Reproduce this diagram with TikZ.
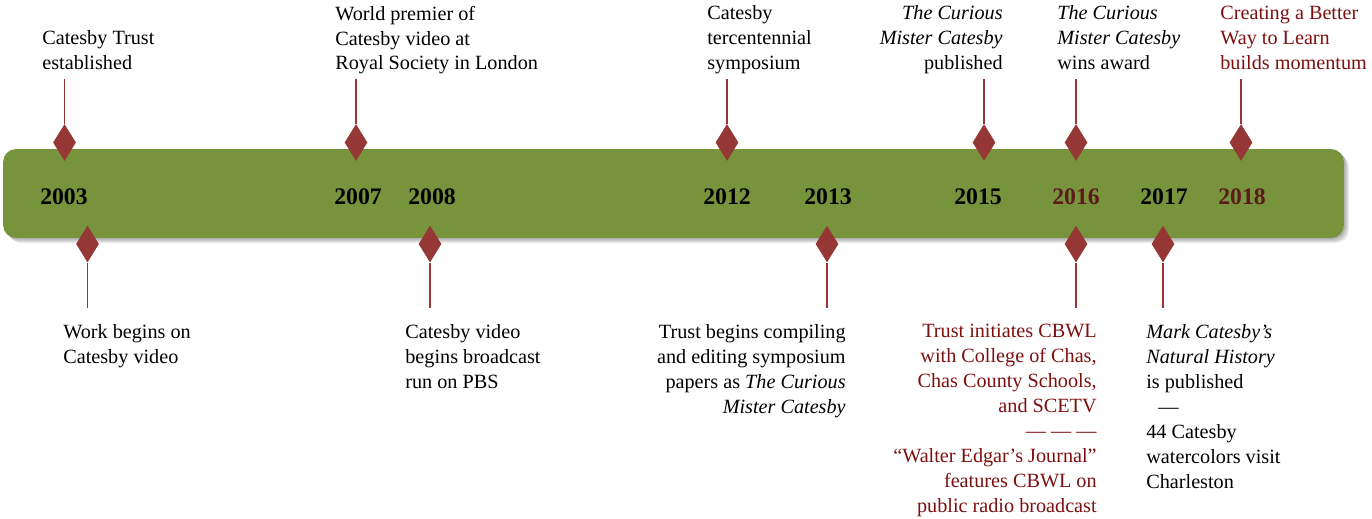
\documentclass[tikz,border=0pt]{standalone}
\usepackage{fontspec}
\setmainfont{Liberation Serif}
\usetikzlibrary{shapes.geometric}
\definecolor{barolive}{RGB}{119,147,60}
\definecolor{gem}{RGB}{149,55,53}
\definecolor{noteRed}{RGB}{125,15,15}
\definecolor{yearRed}{RGB}{92,26,26}
\begin{document}
\begin{tikzpicture}[x=0.02cm,y=-0.02cm,
  note/.style={inner sep=0pt,align=left,font=\fontsize{11.5}{14.2}\selectfont,execute at begin node=\strut},
  year/.style={inner sep=0pt,font=\fontsize{13.5}{15}\selectfont\bfseries},
  gem/.style={diamond,fill=gem,inner sep=0pt,minimum width=0.46cm,minimum height=0.74cm},
  stem/.style={draw=gem,line width=1.1pt},
  bar/.style={fill=barolive,rounded corners=0.26cm,minimum width=26.82cm,minimum height=1.78cm,inner sep=0pt}]
\useasboundingbox (0,0) rectangle (1372,518);
% soft shadow under the bar
\foreach \s in {1,...,5}
  \fill[black,opacity=0.07,rounded corners=0.26cm] (3+\s,149+\s) rectangle (1344+\s,238+\s);
\node[bar] (bar) at (673.5,193.5) {};
% years
\node[year] (y2003) at (64,197) {2003};
\node[year] (y2007) at (358,197) {2007};
\node[year] (y2008) at (432,197) {2008};
\node[year] (y2012) at (727,197) {2012};
\node[year] (y2013) at (828,197) {2013};
\node[year] (y2015) at (978,197) {2015};
\node[year,yearRed] (y2016) at (1076,197) {2016};
\node[year] (y2017) at (1164,197) {2017};
\node[year,yearRed] (y2018) at (1242,197) {2018};
% markers above and below the bar
\foreach \n/\x in {2003/64.5,2007/356,2012/727,2015/984,2016/1076,2018/1241}{
  \node[gem] (up\n) at (\x,142.5) {};
  \coordinate (upend\n) at (\x,79);
  \draw[stem] (upend\n) -- (up\n);
}
\foreach \n/\x in {2003/87.5,2008/430,2013/827,2016/1076,2017/1163}{
  \node[gem] (dn\n) at (\x,244) {};
  \coordinate (dnend\n) at (\x,308);
  \draw[stem] (dnend\n) -- (dn\n);
}
% notes above
\node[note,anchor=north west] (trust) at (42,30) {Catesby Trust\\established};
\node[note,anchor=north west] (premier) at (335,5.5) {World premier of\\Catesby video at\\Royal Society in London};
\node[note,anchor=north west] (symp) at (707,5.5) {Catesby\\tercentennial\\symposium};
\node[note,anchor=north east,align=right] (book) at (1003,5.5) {\textit{The Curious}\\\textit{Mister Catesby}\\published};
\node[note,anchor=north west] (award) at (1057,5.5) {\textit{The Curious}\\\textit{Mister Catesby}\\wins award};
\node[note,anchor=north west,noteRed] (better) at (1220,5.5) {Creating a Better\\Way to Learn\\builds momentum};
% notes below
\node[note,anchor=north west] (video) at (63,324) {Work begins on\\Catesby video};
\node[note,anchor=north west] (pbs) at (405,324) {Catesby video\\begins broadcast\\run on PBS};
\node[note,anchor=north east,align=right] (papers) at (846,324) {Trust begins compiling\\and editing symposium\\papers as \textit{The Curious}\\\textit{Mister Catesby}};
\node[note,anchor=north east,align=right,noteRed] (cbwl) at (1097,324) {Trust initiates CBWL\\with College of Chas,\\Chas County Schools,\\and SCETV\\— — —\\“Walter Edgar’s Journal”\\features CBWL on\\public radio broadcast};
\node[note,anchor=north west] (natural) at (1146,324) {\textit{Mark Catesby’s}\\\textit{Natural History}\\is published\\\hspace*{0.6em}—\\44 Catesby\\watercolors visit\\Charleston};
\end{tikzpicture}
\end{document}
